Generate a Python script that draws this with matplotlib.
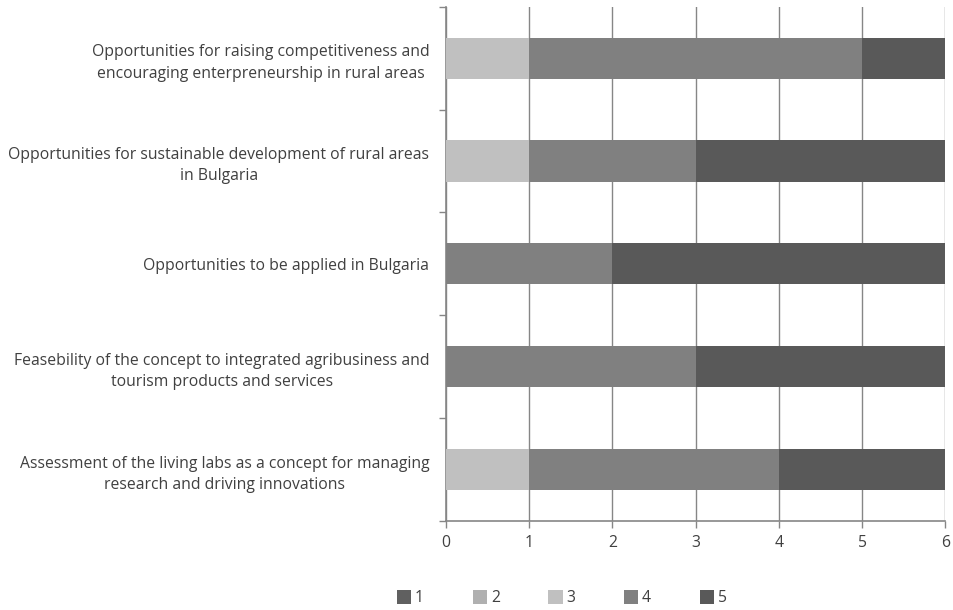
import matplotlib.pyplot as plt
import numpy as np

plt.rcParams['font.family'] = ['Open Sans', 'DejaVu Sans']

categories = [
    "Assessment of the living labs as a concept for managing\nresearch and driving innovations",
    "Feasebility of the concept to integrated agribusiness and\ntourism products and services",
    "Opportunities to be applied in Bulgaria",
    "Opportunities for sustainable development of rural areas\nin Bulgaria",
    "Opportunities for raising competitiveness and\nencouraging enterpreneurship in rural areas",
]
series_names = ["1", "2", "3", "4", "5"]
s1 = [0, 0, 0, 0, 0]
s2 = [0, 0, 0, 0, 0]
s3 = [1, 0, 0, 1, 1]
s4 = [3, 3, 2, 2, 4]
s5 = [2, 3, 4, 3, 1]
colors = ["#606060", "#b0b0b0", "#c0c0c0", "#808080", "#595959"]

fig = plt.figure(figsize=(9.54, 6.1), dpi=100)
ax = fig.add_axes([0.4675, 0.146, 0.5235, 0.843])

y = np.arange(len(categories))
left = np.zeros(len(categories))
for name, vals, c in zip(series_names, [s1, s2, s3, s4, s5], colors):
    ax.barh(y, vals, left=left, height=0.4, color=c, label=name, zorder=3)
    left += np.array(vals)

ax.set_xlim(0, 6)
ax.set_ylim(-0.5, len(categories) - 0.5)
ax.set_xticks(range(7))
ax.set_yticks(y)
ax.set_yticklabels(categories)
for t in ax.get_yticklabels():
    t.set_multialignment('center')
    t.set_linespacing(1.45)
ax.set_yticks(np.arange(-0.5, len(categories), 1), minor=True)
ax.tick_params(axis='y', which='major', length=0, pad=12, labelsize=11.3, labelcolor='#404040')
ax.tick_params(axis='y', which='minor', length=5, color='#868686', width=1)
ax.tick_params(axis='x', length=5, color='#868686', width=1, labelsize=11.3, labelcolor='#404040', pad=5)

ax.grid(axis='x', color='#868686', linewidth=1, zorder=0)
for side in ['top', 'right']:
    ax.spines[side].set_visible(False)
for side in ['left', 'bottom']:
    ax.spines[side].set_color('#868686')
    ax.spines[side].set_linewidth(1.2)

fig.legend(loc='center', bbox_to_anchor=(0.589, 0.019), ncol=5, frameon=False,
           handlelength=0.9, handleheight=0.9, handletextpad=0.25, columnspacing=3.1,
           fontsize=11.3, labelcolor='#404040')

fig.savefig('out.png', dpi=100)
